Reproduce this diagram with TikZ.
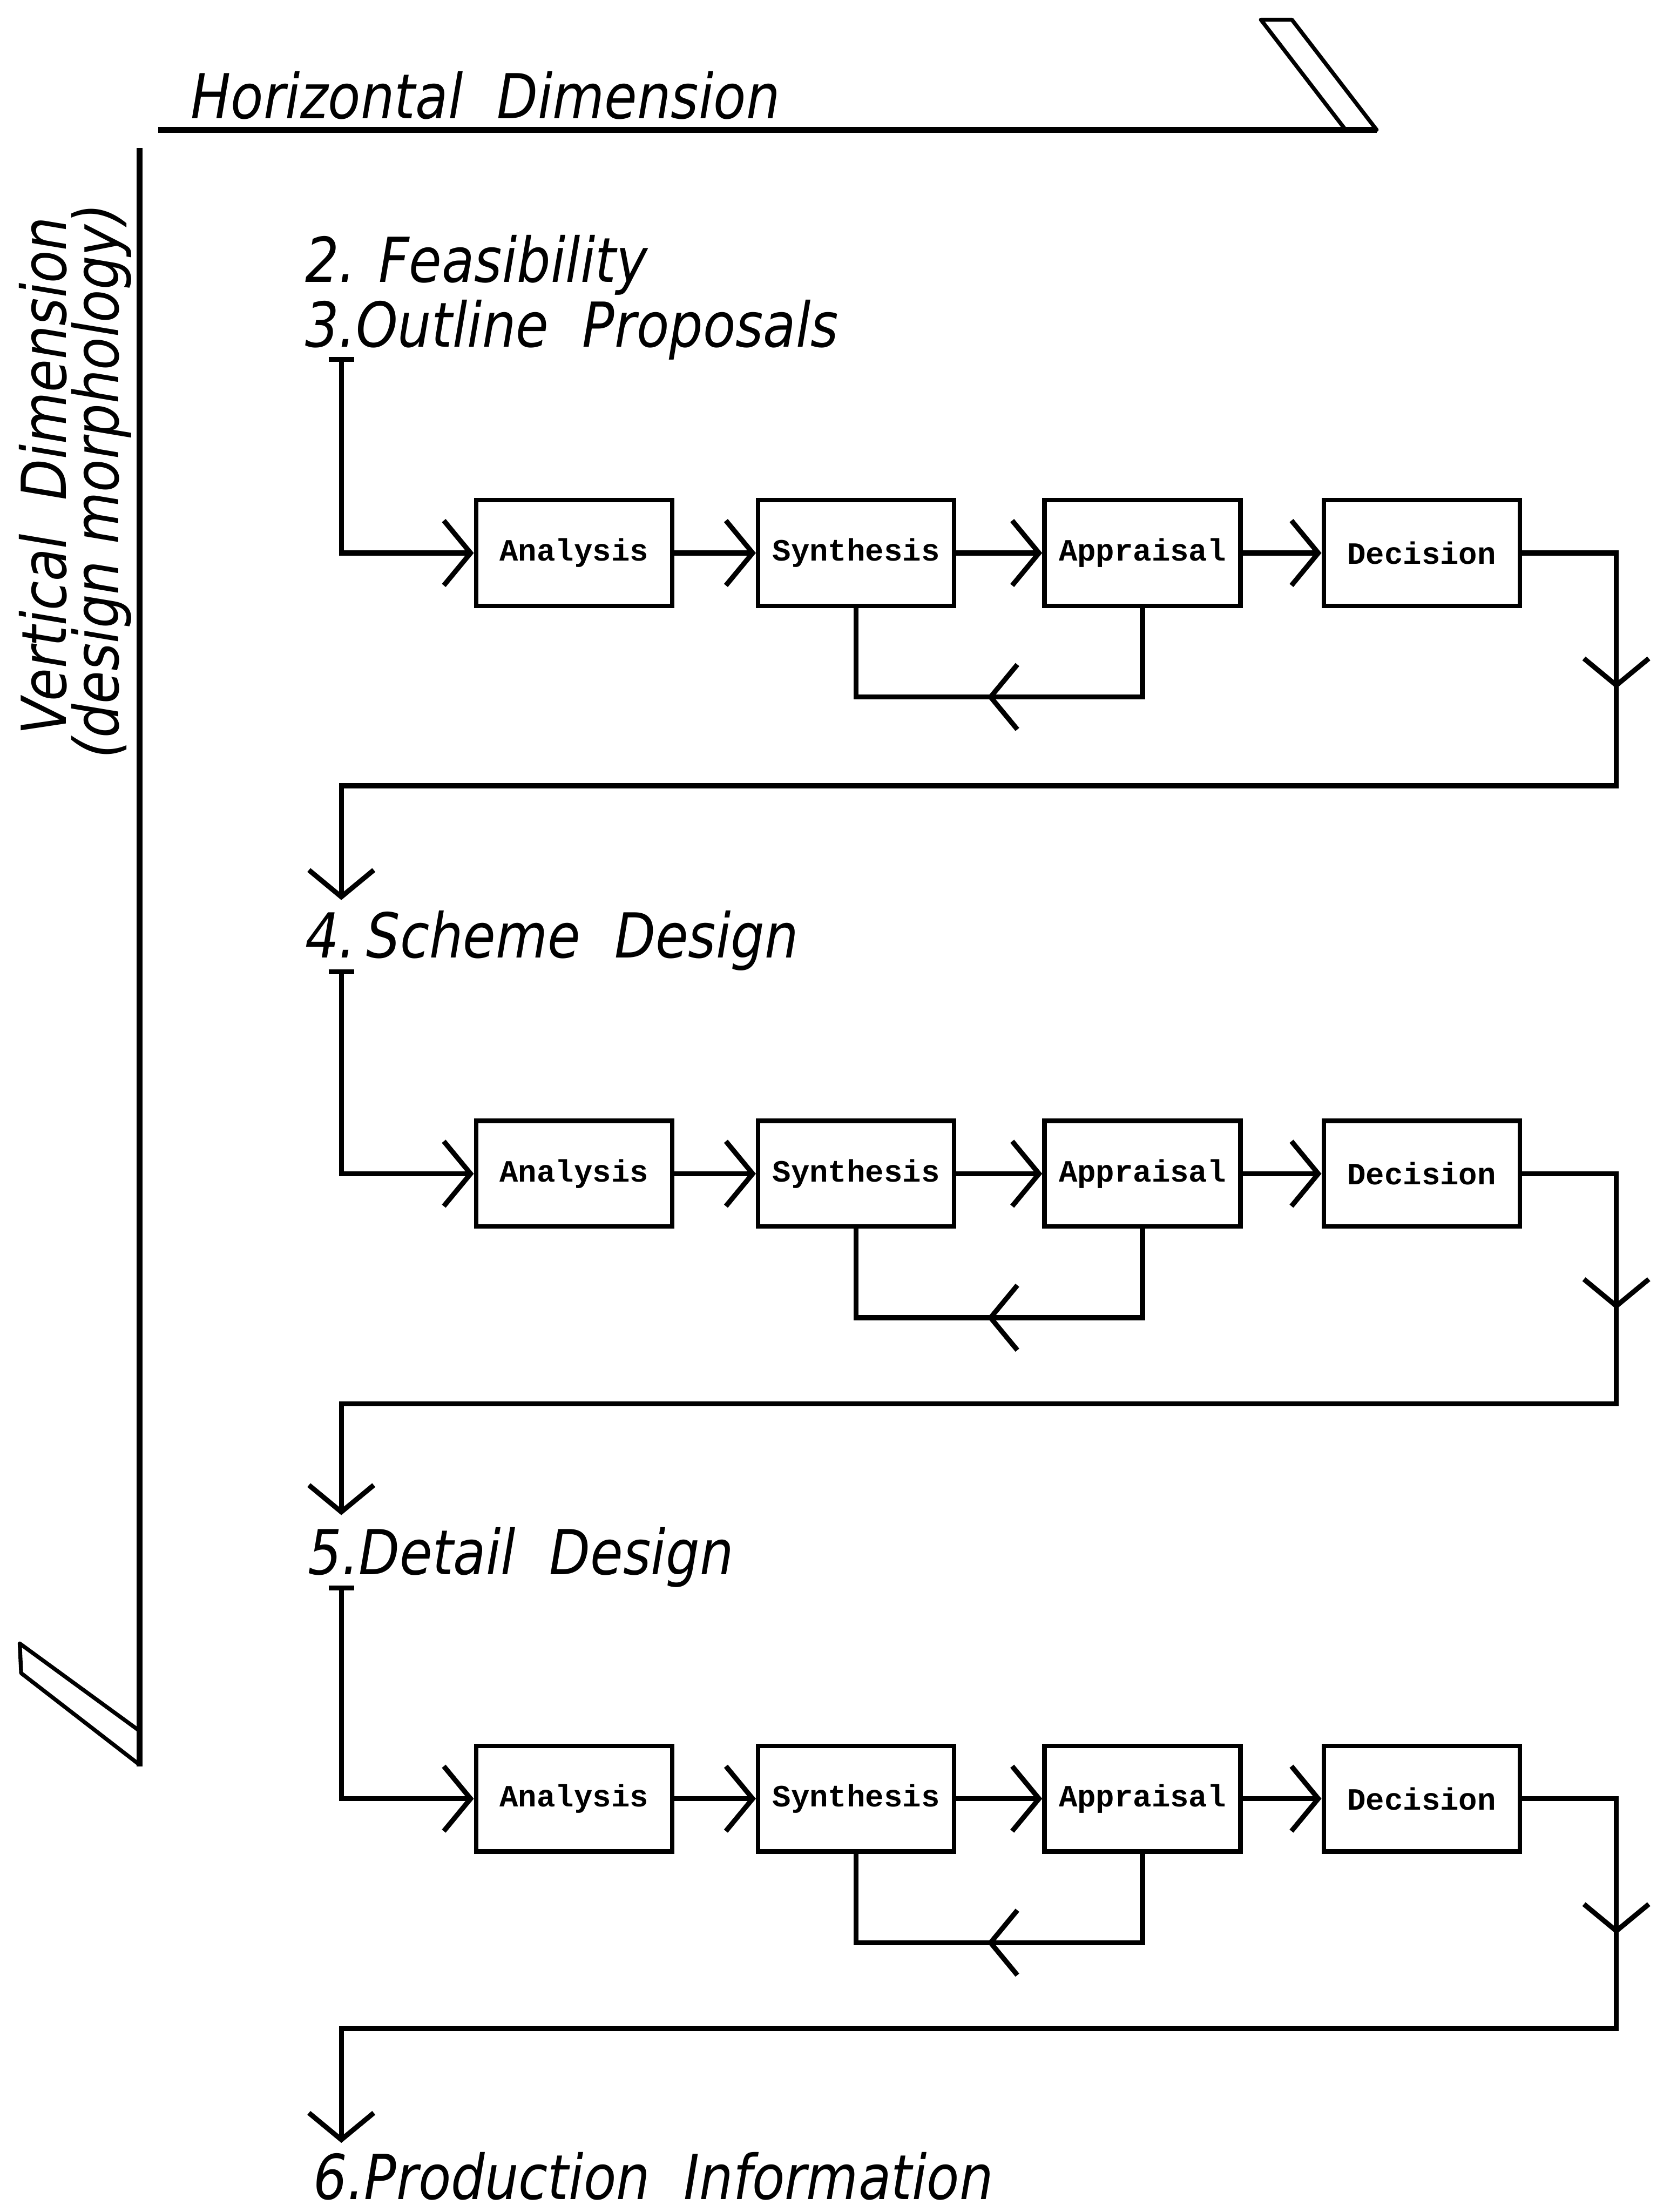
\documentclass[tikz,border=0pt]{standalone}
\usepackage{fontspec}
\usepackage{xcolor}
\usetikzlibrary{arrows.meta,decorations.markings}
\newfontfamily\handfont[FakeStretch=0.86]{DejaVu Sans}
\newfontfamily\typefont{Liberation Mono}

\tikzset{
  stagebox/.style={draw, line width=1.8pt, minimum width=2.78cm, minimum height=1.5cm,
    inner sep=0pt, font=\typefont\bfseries\fontsize{12.5}{14}\selectfont},
  hand/.style={font=\handfont\itshape\fontsize{25}{30}\selectfont, inner sep=0pt, anchor=base west},
  flow/.style={line width=2pt, ->},
  midtip/.style={postaction={decorate},
    decoration={markings, mark=at position #1 with {\arrow{>}}}},
}

\begin{document}
\begin{tikzpicture}[x=0.02cm, y=-0.02cm, >={Straight Barb[length=3.8mm, width=9.2mm]}]
\useasboundingbox (0,0) rectangle (1189,1568);

% frame
\draw[line width=2.4pt] (112,92) -- (976,92);
\draw[line width=1.6pt, line join=round] (894,14) -- (916,14) -- (976,92) -- (954,92) -- cycle;
\draw[line width=2.4pt] (99,105) -- (99,1252);
\draw[line width=1.6pt, line join=round] (99,1227) -- (14,1165) -- (15,1186) -- (99,1251);
\node[hand] (hdim) at (135,84) {Horizontal~ Dimension};
\node[hand, rotate=90] (vdim) at (47,521) {Vertical~ Dimension};
\node[hand, rotate=90] (vmorph) at (84,538) {(design morphology)};

% stages
\node[hand] (feas) at (216,200) {2. Feasibility};
\node[hand] (outline) at (216,246) {3.Outline~ Proposals};
\node[hand] (scheme) at (216,679) {4.\,Scheme~ Design};
\node[hand] (detail) at (218,1116) {5.Detail~ Design};
\node[hand] (prod) at (222,1559) {6.Production~ Information};

\coordinate (in1) at (242,253);
\coordinate (in2) at (242,687);
\coordinate (in3) at (242,1124);
\coordinate (ret1) at (1146,557);
\coordinate (ret2) at (1146,995);
\coordinate (ret3) at (1146,1438);
\coordinate (out1) at (242,638);
\coordinate (out2) at (242,1074);
\coordinate (out3) at (242,1519);

\foreach \r/\y in {1/392, 2/832, 3/1275} {
  \node[stagebox] (ana\r) at (407,\y) {Analysis};
  \node[stagebox] (syn\r) at (607,\y) {Synthesis};
  \node[stagebox] (app\r) at (810,\y) {Appraisal};
  \node[stagebox] (dec\r) at (1008,\y) {Decision};
  \draw[flow, {Bar[width=3.6mm]}->] (in\r) |- (ana\r.west);
  \draw[flow] (ana\r) -- (syn\r);
  \draw[flow] (syn\r) -- (app\r);
  \draw[flow] (app\r) -- (dec\r);
  \draw[line width=2pt, midtip=3.46cm] (app\r.south) -- ++(0,63) -| (syn\r.south);
  \draw[flow, midtip=3.26cm] (dec\r.east) -| (ret\r) -| (out\r);
}
\end{tikzpicture}
\end{document}
